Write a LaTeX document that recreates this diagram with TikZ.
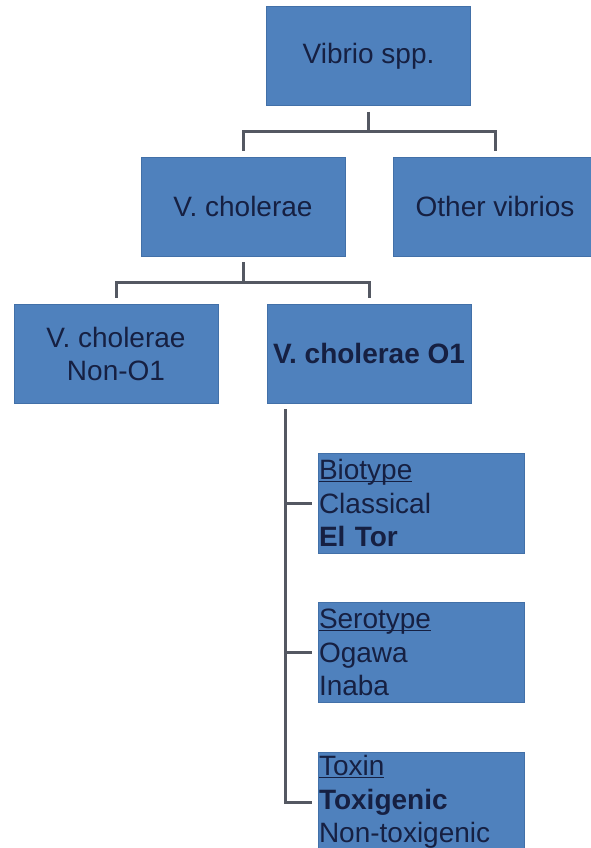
\documentclass[tikz,border=0pt]{standalone}
\usepackage{fontspec}
\setmainfont{Liberation Sans}

\definecolor{boxblue}{RGB}{79,129,189}
\definecolor{boxedge}{RGB}{66,112,168}
\definecolor{textnavy}{RGB}{22,32,66}
\definecolor{linkgray}{RGB}{84,88,98}

\newcommand{\headul}[1]{\underline{\raisebox{0pt}[\height][0pt]{#1}}}

\tikzset{
  taxbox/.style={rectangle, fill=boxblue, draw=boxedge, line width=0.8pt,
    minimum width=204pt, minimum height=99pt, inner sep=0pt,
    align=center, text=textnavy, font=\fontsize{28}{33}\selectfont},
  listbox/.style={taxbox, minimum width=206pt, minimum height=100pt,
    text width=204pt, align=left, font=\fontsize{28}{33.5}\selectfont},
  link/.style={draw=linkgray, line width=3pt, shorten <=6pt, shorten >=6pt}
}

\begin{document}
\begin{tikzpicture}[x=1pt, y=-1pt]
%\draw [lightgray](0,0) grid (590,848);
\useasboundingbox (0,0) rectangle (590,848);

\node[taxbox] (spp) at (368.5,56) {Vibrio spp.};

\node[taxbox] (chol) at (243,206.5) {V. cholerae};
\node[taxbox] (other) at (495,206.5) {Other vibrios};

\node[taxbox] (nono1) at (116,353.5) {V. cholerae\\Non-O1};
\node[taxbox] (o1) at (369,353.5) {\textbf{V. cholerae O1}};

\node[listbox] (biotype) at (421,503) {\headul{Biotype}\\Classical\\\textbf{El Tor}};
\node[listbox] (serotype) at (421,652.5) {\headul{Serotype}\\Ogawa\\Inaba};
\node[listbox] (toxin) at (421,802) {\headul{Toxin}\\\textbf{Toxigenic}\\Non-toxigenic};

\draw[link] (spp.south) -- ++(0,26) -| (chol.north);
\draw[link] (spp.south) -- ++(0,26) -| (other.north);

\draw[link] (chol.south) -- ++(0,26) -| (nono1.north);
\draw[link] (chol.south) -- ++(0,26) -| (o1.north);

\coordinate (trunk) at ([xshift=-84pt]o1.south);
\draw[link] (trunk) |- (toxin.west);
\draw[link, shorten <=0pt] (trunk |- biotype.west) -- (biotype.west);
\draw[link, shorten <=0pt] (trunk |- serotype.west) -- (serotype.west);

\end{tikzpicture}
\end{document}
